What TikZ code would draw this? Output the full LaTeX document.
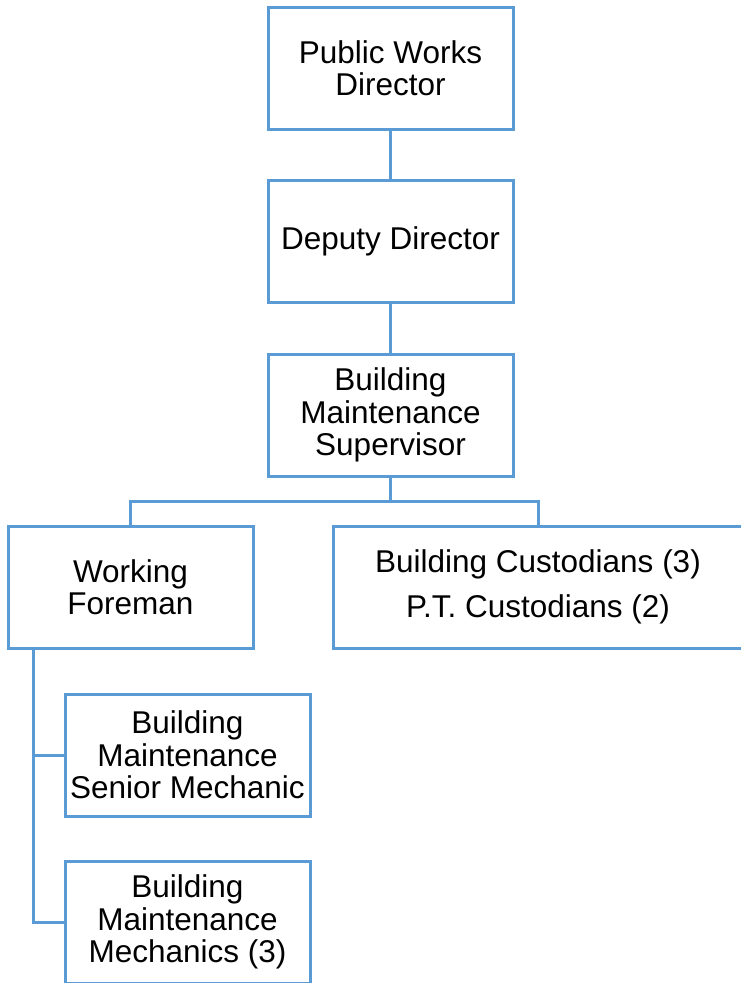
\documentclass[tikz,border=0pt]{standalone}
\usepackage{fontspec}
\setmainfont{Liberation Sans}
\usepackage{xcolor}
\usetikzlibrary{positioning}
\definecolor{orgblue}{HTML}{5B9BD5}

\begin{document}
\begin{tikzpicture}[x=1pt, y=-1pt, node distance=51.5pt,
  every node/.style={font=\fontsize{31.5}{32.5}\selectfont},
  post/.style={draw=orgblue, line width=3pt, fill=white, align=center, minimum width=245pt, minimum height=122pt, inner sep=2pt, outer sep=0pt}]
\useasboundingbox (0,0) rectangle (740,983);
\node[post] (dir) at (390.5,68) {Public Works\\Director};
\node[post, below=of dir] (dep) {Deputy Director};
\node[post, below=of dep] (sup) {Building\\Maintenance\\Supervisor};
\node[post, below left=50pt and 15pt of sup] (fore) {Working\\Foreman};
\node[post, right=80pt of fore, minimum width=410pt] (cust) {Building Custodians (3)\\[12pt]P.T. Custodians (2)};
\node[post, below=46pt of fore, xshift=57pt] (mech1) {Building\\Maintenance\\Senior Mechanic};
\node[post, below=45pt of mech1] (mech2) {Building\\Maintenance\\Mechanics (3)};
\coordinate[below=25pt of sup.south] (bus);
\draw[orgblue, line width=3pt] (dir) -- (dep);
\draw[orgblue, line width=3pt] (dep) -- (sup);
\draw[orgblue, line width=3pt] (sup.south) -- (bus) -| (fore.north);
\draw[orgblue, line width=3pt] (bus) -| (cust.north);
\draw[orgblue, line width=3pt] ([xshift=25pt]fore.south west) |- (mech1.west);
\draw[orgblue, line width=3pt] ([xshift=25pt]fore.south west) |- (mech2.west);
\end{tikzpicture}
\end{document}
